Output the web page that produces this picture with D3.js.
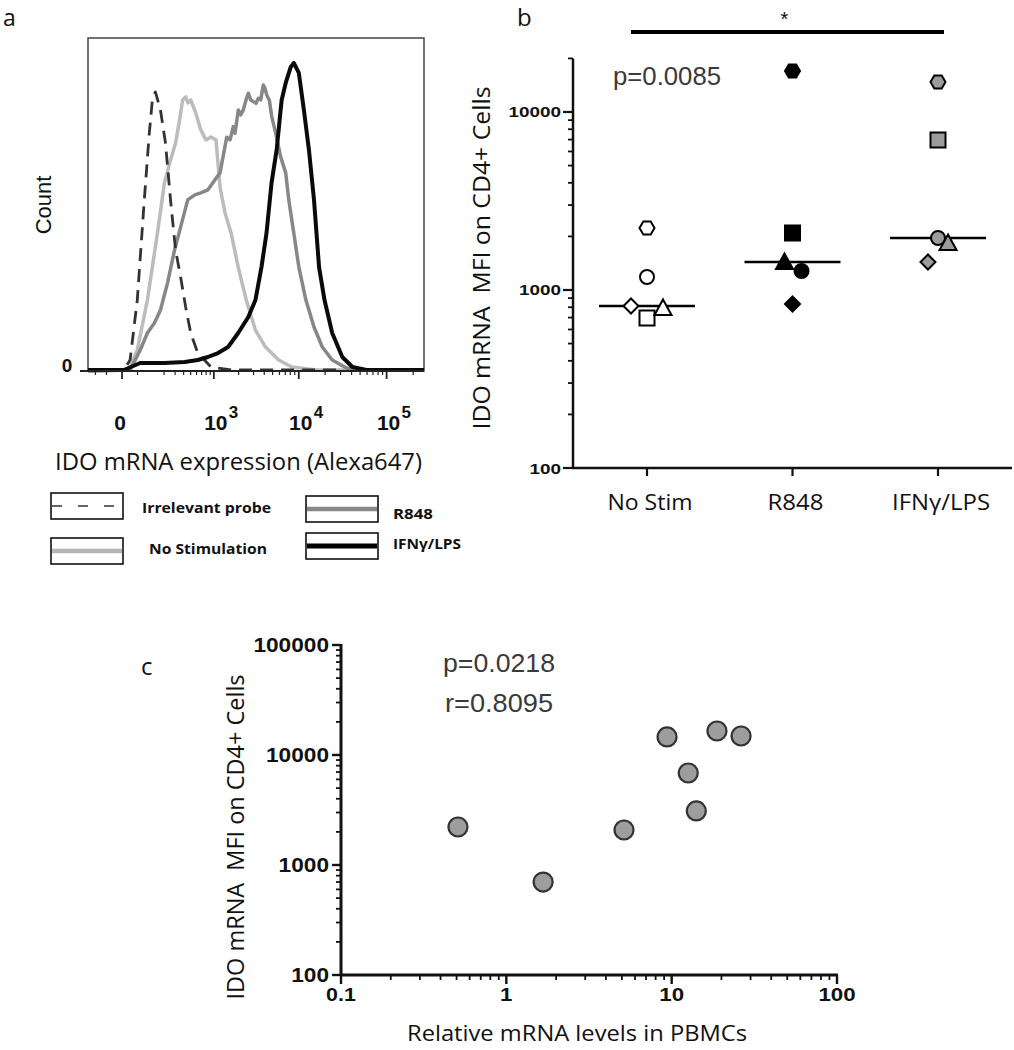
<!DOCTYPE html>
<html>
<head>
<meta charset="utf-8">
<script src="https://cdn.jsdelivr.net/npm/d3@7"></script>
<style>
  html, body { margin: 0; padding: 0; background: #fff; }
  svg { display: block; }
  text { white-space: pre; }
</style>
</head>
<body>
<svg id="chart" width="1014" height="1050"></svg>
<script>
// ---------------- DATA ----------------
// Panel a: flow histograms, [intensity (Alexa647), normalised count]
const irrelevantProbe = [[-143,0.3],[5,0.3],[23.5,3.3],[49,21.3],[79,51.4],[104,71.5],[121,81.4],[139,83.8],[150,82],[173,78.4],[211,68.5],[255,51.4],[305,36.3],[362,28.2],[427,19.2],[501,11.4],[624,5.4],[920,1.2],[1629,0.3],[30000,0.3]];
const noStimulation = [[-143,0],[20,0.3],[49,6.3],[94,21.3],[152,41.4],[203,56.5],[255,63.4],[305,68.5],[350,75.4],[387,81.4],[427,82.3],[460,80.5],[501,81.4],[586,77.5],[683,72.4],[794,69.4],[920,70.3],[1063,69.4],[1192,55.3],[1375,47.4],[1629,41.4],[1978,31.2],[2466,21.3],[3156,12.3],[4139,7.2],[5874,3.3],[8318,1.2],[15745,0.3],[265600,0.3]];
const r848Hist = [[-143,0],[23.5,0.3],[61,6.3],[94,11.4],[133,14.4],[173,18.3],[228,26.4],[294,36.3],[362,43.2],[456,51.4],[569,52.9],[683,53.5],[842,54.4],[1033,57.4],[1192,59.5],[1439,70.2],[1578,69.4],[1728,73.4],[1811,71.4],[1984,78.4],[2118,76.9],[2274,78.4],[2448,81.4],[2606,83.4],[2779,81.4],[2981,80.9],[3208,80.4],[3412,81.9],[3638,81.4],[3901,85.9],[4083,84.9],[4273,82.9],[4581,81.4],[4885,76.4],[5424,71.5],[6193,64.3],[7083,59.5],[7678,51.4],[8775,41.4],[10019,31.2],[12072,21.3],[14933,13.2],[18573,7.2],[24080,3.3],[34890,0.9],[49200,0.3],[265600,0.3]];
const ifnLpsHist = [[-143,0.3],[5,0.3],[61,2.4],[203,2.4],[413,2.7],[624,3.3],[842,4.2],[1127,5.4],[1496,7.2],[1978,11.4],[2606,16.2],[3156,21.3],[3714,31.2],[4250,41.4],[4862,56.5],[5567,66.4],[6363,81.4],[7083,86.5],[8096,91.3],[8775,92.5],[10019,89.5],[11448,78.4],[13075,66.4],[14933,51.4],[17055,31.2],[19683,21.3],[24080,11.4],[31380,4.2],[40890,1.2],[59200,0.3],[265600,0.3]];
const histMajorTicks = [0, 1000, 10000, 100000];
const histExponents = ["", "3", "4", "5"];
const legendLabels = ["Irrelevant probe", "No Stimulation", "R848", "IFNγ/LPS"];

// Panel b: MFI per donor (shape order: hexagon, circle, diamond, square, triangle)
const groups = ["No Stim", "R848", "IFNγ/LPS"];
const donorShapes = ["hexagon", "circle", "diamond", "square", "triangle"];
const noStimMFI = [2228, 1183, 813, 697, 793];
const r848MFI = [16990, 1279, 834, 2089, 1436];
const ifnLpsMFI = [14750, 1960, 1436, 6966, 1836];
const noStimJitter = [0, 0, -0.11, 0, 0.11];
const r848Jitter = [0, 0.062, 0, 0, -0.055];
const ifnLpsJitter = [0, 0, -0.069, 0, 0.069];
const groupFills = ["#ffffff", "#000000", "#9b9b9b"];
const bTicks = [100, 1000, 10000];
const pValueB = "p=0.0085";

// Panel c: correlation
const pbmcRelative = [0.51, 1.67, 5.15, 9.38, 12.6, 14.1, 18.8, 26.3];
const cd4MFI = [2215, 700, 2080, 14590, 6860, 3100, 16530, 14890];
const cYTicks = [100, 1000, 10000, 100000];
const cXTicks = [0.1, 1, 10, 100];
const pValueC = "p=0.0218";
const rValueC = "r=0.8095";

// ---------------- DRAWING ----------------
const svg = d3.select("#chart");
const SANS = "'Liberation Sans', Arial, sans-serif";
const CAL = "'Open Sans', 'Liberation Sans', sans-serif";

function txt(g, o) {
  const t = g.append("text")
    .attr("x", o.x).attr("y", o.y)
    .attr("font-family", o.family || SANS)
    .attr("font-size", o.size || 16)
    .attr("font-weight", o.weight || "normal")
    .attr("fill", o.fill || "#111")
    .attr("text-anchor", o.anchor || "start")
    .text(o.text);
  if (o.len) t.attr("textLength", o.len).attr("lengthAdjust", "spacingAndGlyphs");
  if (o.rotate) t.attr("transform", `rotate(${o.rotate},${o.x},${o.y})`);
  return t;
}

// ===== Panel a =====
const ga = svg.append("g");
txt(ga, {x: 3, y: 26, text: "a", family: CAL, size: 23});
const hx = d3.scaleSymlog().constant(100).domain([-143, 265600]).range([88, 424]);
const hy = d3.scaleLinear().domain([0, 100]).range([371, 38]);

ga.append("clipPath").attr("id", "histClip").append("rect")
  .attr("x", hx.range()[0]).attr("y", hy.range()[1])
  .attr("width", hx.range()[1] - hx.range()[0]).attr("height", hy.range()[0] - hy.range()[1] + 2);

// frame
ga.append("rect").attr("x", 88).attr("y", 38).attr("width", 336).attr("height", 333)
  .attr("fill", "none").attr("stroke", "#444").attr("stroke-width", 1.5);

const hline = d3.line().x(d => hx(d[0])).y(d => hy(d[1]));
const curves = [
  {data: noStimulation, color: "#bcbcbc", w: 3.5, dash: null},
  {data: r848Hist, color: "#878787", w: 3.5, dash: null},
  {data: irrelevantProbe, color: "#333", w: 2.8, dash: "13,8"},
  {data: ifnLpsHist, color: "#0a0a0a", w: 4, dash: null}
];
const cg = ga.append("g").attr("clip-path", "url(#histClip)");
curves.forEach(c => {
  cg.append("path").attr("d", hline(c.data)).attr("fill", "none")
    .attr("stroke", c.color).attr("stroke-width", c.w)
    .attr("stroke-linejoin", "round")
    .attr("stroke-dasharray", c.dash);
});

// x axis of histogram
ga.append("line").attr("x1", 80).attr("x2", 424).attr("y1", 371).attr("y2", 371)
  .attr("stroke", "#222").attr("stroke-width", 2);
const histMinor = [-100, -50, 50];
[100, 1000, 10000, 100000].forEach(dec => {
  for (let k = 2; k <= 9; k++) if (dec * k < 265600) histMinor.push(dec * k);
});
ga.selectAll(".hminor").data(histMinor).join("line")
  .attr("x1", d => hx(d)).attr("x2", d => hx(d)).attr("y1", 371).attr("y2", 375)
  .attr("stroke", "#222").attr("stroke-width", 1.2);
ga.selectAll(".hmajor").data(histMajorTicks).join("line")
  .attr("x1", d => hx(d)).attr("x2", d => hx(d)).attr("y1", 371).attr("y2", 379)
  .attr("stroke", "#222").attr("stroke-width", 1.8);
histMajorTicks.forEach((v, i) => {
  if (v === 0) {
    txt(ga, {x: hx(v) - 2, y: 430, text: "0", weight: "bold", size: 21, anchor: "middle"});
  } else {
    txt(ga, {x: hx(v) + 2, y: 430, text: "10", weight: "bold", size: 21, anchor: "middle"});
    txt(ga, {x: hx(v) + 15, y: 418, text: histExponents[i], weight: "bold", size: 17});
  }
});
txt(ga, {x: 67, y: 372, text: "0", weight: "bold", size: 19, anchor: "middle"});
txt(ga, {x: 51, y: 205, text: "Count", size: 22, anchor: "middle", rotate: -90});
txt(ga, {x: 55, y: 470, text: "IDO mRNA expression (Alexa647)", family: CAL, size: 24, len: 367});

// legend
const legendItems = [
  {x: 51, y: 493, color: "#333", w: 1.6, dash: "10,16", label: legendLabels[0], lx: 142, ly: 513, len: 129},
  {x: 51, y: 538, color: "#b5b5b5", w: 4.5, dash: null, label: legendLabels[1], lx: 149, ly: 554, len: 118},
  {x: 306, y: 496, color: "#878787", w: 4.5, dash: null, label: legendLabels[2], lx: 393, ly: 519, len: 40},
  {x: 306, y: 533, color: "#000", w: 5, dash: null, label: legendLabels[3], lx: 393, ly: 549, len: 68}
];
legendItems.forEach(l => {
  ga.append("rect").attr("x", l.x).attr("y", l.y).attr("width", 72).attr("height", 26)
    .attr("fill", "#fff").attr("stroke", "#111").attr("stroke-width", 1.6);
  ga.append("line").attr("x1", l.x + 1).attr("x2", l.x + 71)
    .attr("y1", l.y + 13).attr("y2", l.y + 13)
    .attr("stroke", l.color).attr("stroke-width", l.w).attr("stroke-dasharray", l.dash);
  txt(ga, {x: l.lx, y: l.ly, text: l.label, family: CAL, size: 14.5, weight: "bold", len: l.len});
});

// ===== Panel b =====
const gb = svg.append("g");
txt(gb, {x: 517, y: 26, text: "b", family: CAL, size: 24});
const yB = d3.scaleLog().domain([100, 20000]).range([468, 58.4]);
const xB = d3.scalePoint().domain(groups).range([647, 938]);
const stepB = xB.step();

// axes
gb.append("line").attr("x1", 573).attr("x2", 573).attr("y1", yB(20000)).attr("y2", yB(100) + 1)
  .attr("stroke", "#111").attr("stroke-width", 2.5);
gb.append("line").attr("x1", 572).attr("x2", 1012).attr("y1", yB(100)).attr("y2", yB(100))
  .attr("stroke", "#111").attr("stroke-width", 2.5);
const bMinor = [];
[100, 1000, 10000].forEach(dec => { for (let k = 2; k <= 9; k++) if (dec * k <= 20000) bMinor.push(dec * k); });
gb.selectAll(".bminor").data(bMinor).join("line")
  .attr("x1", 568).attr("x2", 573).attr("y1", d => yB(d)).attr("y2", d => yB(d))
  .attr("stroke", "#111").attr("stroke-width", 1.8);
gb.selectAll(".bmajor").data(bTicks).join("line")
  .attr("x1", 563).attr("x2", 573).attr("y1", d => yB(d)).attr("y2", d => yB(d))
  .attr("stroke", "#111").attr("stroke-width", 2.2);
bTicks.forEach(v => {
  const s = String(v);
  txt(gb, {x: 561, y: yB(v) + 5.5, text: s, weight: "bold", size: 15.5, anchor: "end", len: s.length * 10.5});
});
gb.selectAll(".bxtick").data(groups).join("line")
  .attr("x1", d => xB(d)).attr("x2", d => xB(d)).attr("y1", yB(100)).attr("y2", yB(100) + 8)
  .attr("stroke", "#111").attr("stroke-width", 2.2);
const bLabelLen = [85, 56, 98];
groups.forEach((g, i) => {
  txt(gb, {x: xB(g) + 3, y: 510, text: g, family: CAL, size: 22, anchor: "middle", len: bLabelLen[i]});
});
txt(gb, {x: 490, y: 258, text: "IDO mRNA  MFI on CD4+ Cells", family: CAL, size: 24, anchor: "middle", rotate: -90, len: 343});

// significance bar
gb.append("line").attr("x1", xB(groups[0]) - 16).attr("x2", xB(groups[2]) + 6).attr("y1", 32).attr("y2", 32)
  .attr("stroke", "#000").attr("stroke-width", 4);
txt(gb, {x: (xB(groups[0]) + xB(groups[2])) / 2 - 8, y: 26, text: "*", size: 20, anchor: "middle"});
txt(gb, {x: 613, y: 85, text: pValueB, size: 25.5, fill: "#3a3a3a", len: 108});

function shapePath(shape) {
  switch (shape) {
    case "hexagon": return "M-7.5,0L-3.7,-6.5L3.7,-6.5L7.5,0L3.7,6.5L-3.7,6.5Z";
    case "circle": return "M-7,0A7,7 0 1,0 7,0A7,7 0 1,0 -7,0Z";
    case "diamond": return "M0,-7.5L7.5,0L0,7.5L-7.5,0Z";
    case "square": return "M-7.5,-7.5H7.5V7.5H-7.5Z";
    case "triangle": return "M0,-8.5L8.5,7L-8.5,7Z";
  }
}
const groupValues = [noStimMFI, r848MFI, ifnLpsMFI];
const groupJitter = [noStimJitter, r848Jitter, ifnLpsJitter];
groups.forEach((g, gi) => {
  const vals = groupValues[gi];
  const med = d3.median(vals);
  gb.append("line").attr("x1", xB(g) - 48).attr("x2", xB(g) + 48)
    .attr("y1", yB(med)).attr("y2", yB(med))
    .attr("stroke", "#000").attr("stroke-width", 2.6);
  const pts = vals.map((v, i) => ({v, shape: donorShapes[i], j: groupJitter[gi][i]}));
  gb.selectAll(null).data(pts).join("path")
    .attr("d", d => shapePath(d.shape))
    .attr("transform", d => `translate(${xB(g) + d.j * stepB},${yB(d.v)})`)
    .attr("fill", groupFills[gi]).attr("stroke", "#000").attr("stroke-width", 2);
});

// ===== Panel c =====
const gc = svg.append("g");
txt(gc, {x: 141, y: 675, text: "c", family: CAL, size: 24});
const xC = d3.scaleLog().domain([0.1, 100]).range([341, 837]);
const yC = d3.scaleLog().domain([100, 100000]).range([975, 645]);

gc.append("line").attr("x1", xC(0.1)).attr("x2", xC(0.1)).attr("y1", yC(100000) - 1).attr("y2", yC(100) + 1)
  .attr("stroke", "#111").attr("stroke-width", 3);
gc.append("line").attr("x1", xC(0.1) - 1).attr("x2", xC(100) + 1).attr("y1", yC(100)).attr("y2", yC(100))
  .attr("stroke", "#111").attr("stroke-width", 3);
const cYMinor = [], cXMinor = [];
[100, 1000, 10000].forEach(dec => { for (let k = 2; k <= 9; k++) cYMinor.push(dec * k); });
[0.1, 1, 10].forEach(dec => { for (let k = 2; k <= 9; k++) cXMinor.push(dec * k); });
gc.selectAll(".cym").data(cYMinor).join("line")
  .attr("x1", xC(0.1) - 5).attr("x2", xC(0.1)).attr("y1", d => yC(d)).attr("y2", d => yC(d))
  .attr("stroke", "#111").attr("stroke-width", 1.8);
gc.selectAll(".cyM").data(cYTicks).join("line")
  .attr("x1", xC(0.1) - 9).attr("x2", xC(0.1)).attr("y1", d => yC(d)).attr("y2", d => yC(d))
  .attr("stroke", "#111").attr("stroke-width", 2.4);
gc.selectAll(".cxm").data(cXMinor).join("line")
  .attr("x1", d => xC(d)).attr("x2", d => xC(d)).attr("y1", yC(100)).attr("y2", yC(100) + 5)
  .attr("stroke", "#111").attr("stroke-width", 1.8);
gc.selectAll(".cxM").data(cXTicks).join("line")
  .attr("x1", d => xC(d)).attr("x2", d => xC(d)).attr("y1", yC(100)).attr("y2", yC(100) + 9)
  .attr("stroke", "#111").attr("stroke-width", 2.4);
cYTicks.forEach(v => {
  const s = String(v);
  txt(gc, {x: 329, y: yC(v) + 7, text: s, weight: "bold", size: 20, anchor: "end", len: s.length * 12.6});
});
cXTicks.forEach(v => {
  const s = String(v);
  txt(gc, {x: xC(v), y: 1001, text: s, weight: "bold", size: 19, anchor: "middle", len: s.replace(".", "").length * 12.4 + (s.includes(".") ? 5 : 0)});
});
txt(gc, {x: 244, y: 837, text: "IDO mRNA  MFI on CD4+ Cells", family: CAL, size: 24, anchor: "middle", rotate: -90, len: 325});
txt(gc, {x: 407, y: 1041, text: "Relative mRNA levels in PBMCs", family: CAL, size: 22, len: 340});
txt(gc, {x: 443, y: 672, text: pValueC, size: 26, fill: "#3a3a3a", len: 112});
txt(gc, {x: 445, y: 712, text: rValueC, size: 26, fill: "#3a3a3a", len: 108});

const cPts = pbmcRelative.map((x, i) => ({x, y: cd4MFI[i]}));
gc.selectAll(".cpt").data(cPts).join("circle")
  .attr("cx", d => xC(d.x)).attr("cy", d => yC(d.y)).attr("r", 9.5)
  .attr("fill", "#9d9d9d").attr("stroke", "#333").attr("stroke-width", 2.2);
</script>
</body>
</html>
